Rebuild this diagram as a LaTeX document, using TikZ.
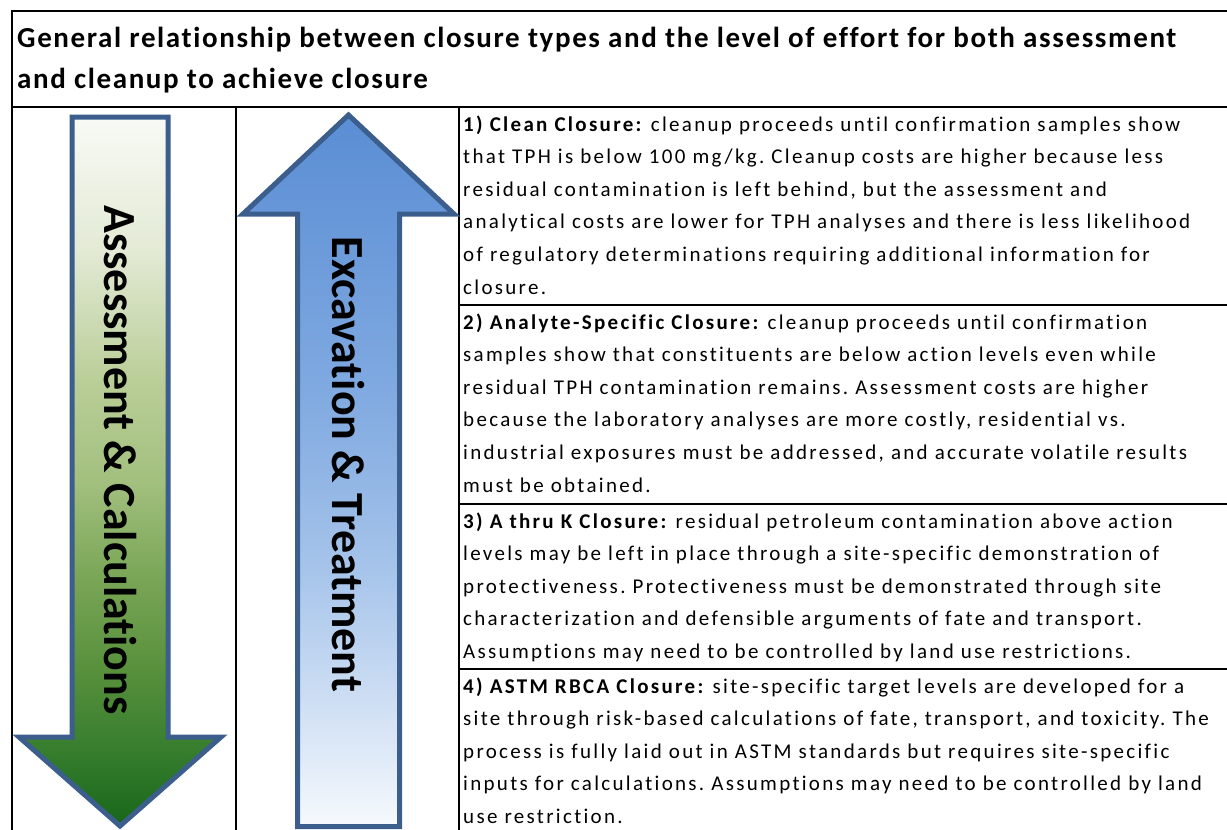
\documentclass[tikz,border=0pt]{standalone}
\usepackage{fontspec}
\setmainfont{Carlito}[Ligatures=NoCommon]
\newfontfamily\cellfamily{Carlito}[LetterSpace=11, Ligatures=NoCommon]
\newfontfamily\headfamily{Carlito}[LetterSpace=5.6, Ligatures=NoCommon]
\newcommand\cellfont{\cellfamily\fontsize{21}{24}\selectfont\frenchspacing}
\newcommand\headingfont{\headfamily\fontsize{29}{32}\selectfont\bfseries\frenchspacing}
\newcommand\arrowtextfont{\fontsize{46}{50}\selectfont\bfseries}
\definecolor{arrowedge}{HTML}{3B5E8C}
\definecolor{gA}{HTML}{18661A}
\definecolor{gB}{HTML}{3A8030}
\definecolor{gC}{HTML}{58903C}
\definecolor{gD}{HTML}{78A555}
\definecolor{gE}{HTML}{A3C07F}
\definecolor{gF}{HTML}{BACE98}
\definecolor{gG}{HTML}{E3EAD5}
\definecolor{gH}{HTML}{F8FAF5}
\definecolor{bA}{HTML}{F6F9FD}
\definecolor{bB}{HTML}{C4D8F1}
\definecolor{bC}{HTML}{A9C6EB}
\definecolor{bD}{HTML}{92B6E5}
\definecolor{bE}{HTML}{7EA8E0}
\definecolor{bF}{HTML}{5A8DD4}
% shading stops run bottom to top; the path box covers 25bp..75bp
\pgfdeclareverticalshading{greenfade}{100bp}{color(0bp)=(gA); color(25bp)=(gA); color(31bp)=(gB); color(36bp)=(gC); color(42.3bp)=(gD); color(49.4bp)=(gE); color(56.5bp)=(gF); color(65.6bp)=(gG); color(75bp)=(gH); color(100bp)=(gH)}
\pgfdeclareverticalshading{bluefade}{100bp}{color(0bp)=(bA); color(25bp)=(bA); color(36bp)=(bB); color(42.3bp)=(bC); color(49.3bp)=(bD); color(56.4bp)=(bE); color(75bp)=(bF); color(100bp)=(bF)}
\tikzset{
  rule/.style={line width=2pt, black},
  arrowshape/.style={draw=arrowedge, line width=5pt, line join=miter},
  cellline/.style={anchor=base west, inner sep=0pt, font=\cellfont},
  headline/.style={anchor=base west, inner sep=0pt, font=\headingfont},
  arrowlabel/.style={rotate=-90, anchor=base, inner sep=0pt, font=\arrowtextfont},
}
\begin{document}
\begin{tikzpicture}[x=1pt,y=-1pt]
\useasboundingbox (0,0) rectangle (1227,830);
\clip (0,0) rectangle (1227,830);

% table rules
\draw[rule] (1240,11) -- (12,11) -- (12,840);
\draw[rule] (12,107) -- (1240,107);
\draw[rule] (235.5,107) -- (235.5,840);
\draw[rule] (459,107) -- (459,840);
\draw[rule] (459,305) -- (1240,305);
\draw[rule] (459,504) -- (1240,504);
\draw[rule] (459,669) -- (1240,669);

% heading
\node[headline] (head1) at (17,47) {General relationship between closure types and the level of effort for both assessment};
\node[headline] (head2) at (17,88) {and cleanup to achieve closure};

% downward arrow
\path[arrowshape, shading=greenfade]
  (72,117) -- (168,117) -- (168,737) -- (221,737) -- (120,826) -- (19,737) -- (72,737) -- cycle;
\node[arrowlabel] (assess) at (104,460) {Assessment \& Calculations};

% upward arrow
\path[arrowshape, shading=bluefade]
  (348.5,115) -- (454,214) -- (399.5,214) -- (399.5,826.5) -- (297.5,826.5) -- (297.5,214) -- (243,214) -- cycle;
\node[arrowlabel] (excav) at (332,464.5) {Excavation \& Treatment};

% row 1
\node[cellline] (r1a) at (463,131) {\textbf{1) Clean Closure:} cleanup proceeds until confirmation samples show};
\node[cellline] (r1b) at (463,163.6) {that TPH is below 100 mg/kg. Cleanup costs are higher because less};
\node[cellline] (r1c) at (463,196.2) {residual contamination is left behind, but the assessment and};
\node[cellline] (r1d) at (463,228.8) {analytical costs are lower for TPH analyses and there is less likelihood};
\node[cellline] (r1e) at (463,261.4) {of regulatory determinations requiring additional information for};
\node[cellline] (r1f) at (463,294) {closure.};

% row 2
\node[cellline] (r2a) at (463,329) {\textbf{2) Analyte-Specific Closure:} cleanup proceeds until confirmation};
\node[cellline] (r2b) at (463,361.6) {samples show that constituents are below action levels even while};
\node[cellline] (r2c) at (463,394.2) {residual TPH contamination remains. Assessment costs are higher};
\node[cellline] (r2d) at (463,426.8) {because the laboratory analyses are more costly, residential vs.};
\node[cellline] (r2e) at (463,459.4) {industrial exposures must be addressed, and accurate volatile results};
\node[cellline] (r2f) at (463,492) {must be obtained.};

% row 3
\node[cellline] (r3a) at (463,528) {\textbf{3) A thru K Closure:} residual petroleum contamination above action};
\node[cellline] (r3b) at (463,560.6) {levels may be left in place through a site-specific demonstration of};
\node[cellline] (r3c) at (463,593.2) {protectiveness. Protectiveness must be demonstrated through site};
\node[cellline] (r3d) at (463,625.8) {characterization and defensible arguments of fate and transport.};
\node[cellline] (r3e) at (463,658.4) {Assumptions may need to be controlled by land use restrictions.};

% row 4
\node[cellline] (r4a) at (463,693) {\textbf{4) ASTM RBCA Closure:} site-specific target levels are developed for a};
\node[cellline] (r4b) at (463,725.6) {site through risk-based calculations of fate, transport, and toxicity. The};
\node[cellline] (r4c) at (463,758.2) {process is fully laid out in ASTM standards but requires site-specific};
\node[cellline] (r4d) at (463,790.8) {inputs for calculations. Assumptions may need to be controlled by land};
\node[cellline] (r4e) at (463,823.4) {use restriction.};
\end{tikzpicture}
\end{document}
